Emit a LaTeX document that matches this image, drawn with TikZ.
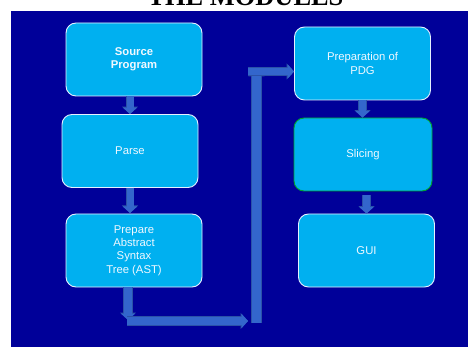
\documentclass[tikz,border=0pt]{standalone}
\usepackage{fontspec}
\setmainfont{Liberation Serif}
\setsansfont{Liberation Sans}
\usetikzlibrary{arrows.meta,calc}

\definecolor{slidebg}{HTML}{000099}
\definecolor{boxfill}{HTML}{00B0F0}
\definecolor{boxedge}{HTML}{E6F0FF}
\definecolor{greenedge}{HTML}{00A030}
\definecolor{arrowfill}{HTML}{3366CC}
\definecolor{arrowedge}{HTML}{2A52A8}
\definecolor{boxtext}{HTML}{F0F8FF}

\tikzset{
  module/.style={draw=boxedge, line width=0.9pt, fill=boxfill, rounded corners=10pt,
    minimum width=136pt, minimum height=73pt, inner sep=0pt, align=center,
    text=boxtext, font=\sffamily\fontsize{11.3}{13.4}\selectfont},
  blockarrow/.style={draw=arrowfill, line width=#1, -{Triangle[width=14pt,length=6.5pt]},
    preaction={draw=arrowedge, line width=#1+1.2pt, -{Triangle[width=16pt,length=7.5pt]}}},
  blockarrow/.default=7pt,
  bar/.style={draw=arrowfill, line width=8pt,
    preaction={draw=arrowedge, line width=9.2pt}}
}

\begin{document}
\begin{tikzpicture}[x=1pt, y=-1pt]
  \useasboundingbox (0,0) rectangle (468,347);
  \clip (0,0) rectangle (468,347);

  % slide background and title
  \fill[slidebg] (11,11) rectangle (468,347);
  \node[anchor=base, inner sep=0pt, font=\bfseries\fontsize{26.4}{30}\selectfont]
    (title) at (245.5,5.3) {THE MODULES};

  % modules
  \node[module] (src) at (134,59.5) {\bfseries Source\\\bfseries Program};
  \node[module] (parse) at (130,151) {Parse};
  \node[module] (ast) at (134,250.5) {Prepare\\Abstract\\Syntax\\Tree (AST)};
  \node[module] (pdg) at (362.5,63.5) {Preparation of\\PDG};
  \node[module, draw=greenedge, minimum width=138pt] (slice) at (363,154.5) {Slicing};
  \node[module] (gui) at (366.5,250.5) {GUI};

  % route points of the link from the AST to the PDG
  \coordinate (downtip) at (128,320);
  \coordinate (lowstart) at (127,321);
  \coordinate (lowtip) at (248,321);
  \coordinate (risebase) at (256.5,323);
  \coordinate (risetip) at (256.5,69);
  \coordinate (topstart) at (248,71.5);
  \coordinate (pdgin) at (pdg.west |- topstart);

  % connectors in the left column
  \draw[blockarrow] (parse.north |- src.south) -- (parse.north);
  \draw[blockarrow] (130,188) -- (130,213);

  % connectors in the right column
  \draw[blockarrow] (pdg.south) -- (pdg.south |- slice.north);
  \draw[blockarrow] (gui.north |- 0,195) -- (gui.north);

  % link from the AST round to the PDG
  \draw[blockarrow=8pt] (ast.south -| downtip) -- (downtip);
  \draw[blockarrow=8pt] (lowstart) -- (lowtip);
  \draw[blockarrow=9pt] (risebase) -- (risetip);
  \draw[blockarrow] (topstart) -- (pdgin);
\end{tikzpicture}
\end{document}
